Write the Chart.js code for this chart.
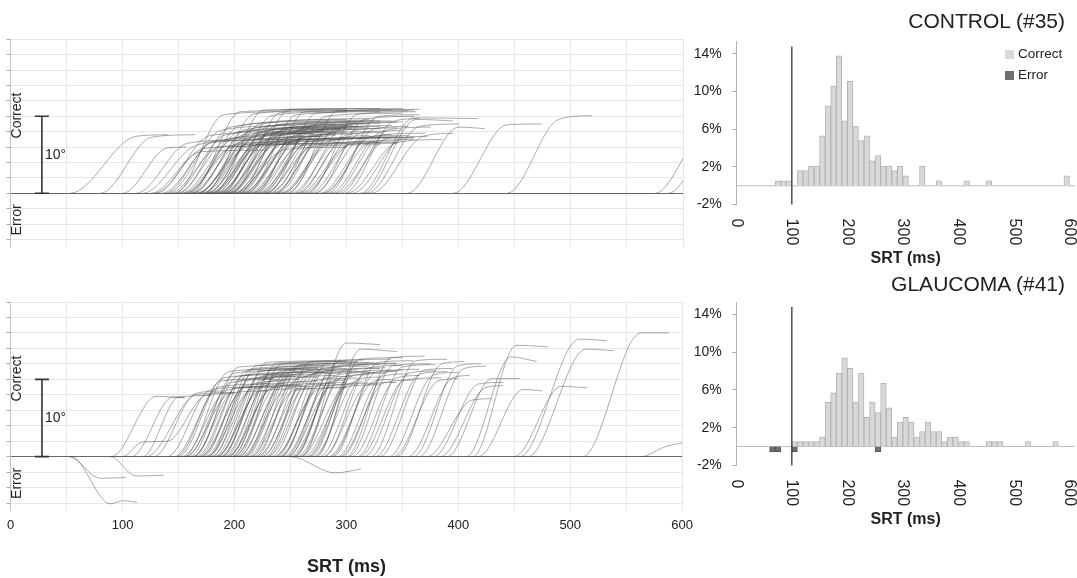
<!DOCTYPE html>
<html>
<head>
<meta charset="utf-8">
<script src="https://cdn.jsdelivr.net/npm/chart.js@4.4.1/dist/chart.umd.min.js"></script>
<style>
  html, body { margin: 0; padding: 0; background: #fff; }
  body { width: 1077px; height: 578px; position: relative; overflow: hidden; font-family: "Liberation Sans", Arial, sans-serif; }
  .box { position: absolute; }
  .title { position: absolute; right: 12px; font-size: 21px; color: #222; white-space: nowrap; }
  .legend { position: absolute; left: 1005px; top: 43px; font-size: 13.5px; color: #222; line-height: 21px; }
  .legend .sw { display: inline-block; width: 9px; height: 9px; margin-right: 4px; vertical-align: -0.5px; }
</style>
</head>
<body>
<div class="box" style="left:0;top:0;width:700px;height:260px"><canvas id="traceControl"></canvas></div>
<div class="box" style="left:0;top:260px;width:700px;height:318px"><canvas id="traceGlaucoma"></canvas></div>
<div class="box" style="left:680px;top:0;width:397px;height:270px"><canvas id="histControl"></canvas></div>
<div class="box" style="left:680px;top:270px;width:397px;height:308px"><canvas id="histGlaucoma"></canvas></div>
<div class="title" style="top:9px">CONTROL (#35)</div>
<div class="title" style="top:272px">GLAUCOMA (#41)</div>
<div class="legend">
  <div><span class="sw" style="background:#d9d9d9"></span>Correct</div>
  <div><span class="sw" style="background:#6f6f6f"></span>Error</div>
</div>
<script>
// --- tick labels ---
const srtTicks = [0, 100, 200, 300, 400, 500, 600];
const degTicks = [-6, -4, -2, 0, 2, 4, 6, 8, 10, 12, 14, 16, 18, 20];
const pctTicks = [-2, 2, 6, 10, 14];
const cutoffMs = 100;

// --- eye traces: [onset ms, then (time ms, deg) pairs]; every trace sits at 0 deg from t = 0 ---
const controlTraces = [
  [53, 112, 7.4, 140, 7.6], [80, 126, 7.3, 165, 7.6], [100, 140, 5.9, 157, 6.0], [112, 158, 6.5, 200, 6.9],
  [118, 165, 6.2, 215, 7.0], [125, 170, 5.4, 230, 5.6], [130, 178, 7.5, 240, 8.0], [135, 182, 6.8, 225, 7.2],
  [140, 188, 8.2, 250, 8.8], [142, 186, 6.0, 235, 6.4], [145, 192, 7.6, 270, 8.4], [148, 195, 7.1, 245, 7.5],
  [150, 196, 8.6, 285, 9.4], [152, 200, 7.2, 260, 7.8], [155, 202, 6.4, 250, 6.7], [157, 204, 8.0, 275, 8.6],
  [158, 205, 8.8, 300, 9.6], [160, 206, 6.7, 240, 7.1], [162, 208, 7.6, 265, 8.0], [163, 210, 8.3, 290, 9.0],
  [165, 212, 6.1, 255, 6.5], [166, 213, 7.2, 270, 7.8], [168, 214, 8.1, 300, 8.6], [170, 216, 6.9, 262, 7.3],
  [171, 218, 8.5, 310, 9.2], [172, 219, 7.5, 280, 8.1], [174, 220, 6.3, 258, 6.6], [175, 221, 7.9, 290, 8.5],
  [176, 223, 9.0, 320, 9.7], [178, 224, 7.3, 270, 7.8], [179, 226, 6.8, 265, 7.1], [180, 227, 8.1, 300, 8.8],
  [182, 228, 7.6, 285, 8.0], [183, 230, 8.7, 315, 9.3], [184, 231, 7.1, 275, 7.4], [186, 232, 7.8, 295, 8.3],
  [187, 234, 8.3, 305, 8.8], [188, 235, 6.6, 270, 7.0], [190, 236, 7.4, 290, 7.9], [191, 238, 8.9, 325, 9.5],
  [192, 239, 8.0, 300, 8.4], [194, 240, 7.0, 280, 7.4], [195, 242, 8.2, 310, 8.7], [196, 243, 7.7, 295, 8.1],
  [198, 244, 6.5, 275, 6.8], [200, 246, 8.5, 320, 9.0], [201, 248, 7.3, 290, 7.7], [203, 250, 7.9, 305, 8.4],
  [205, 252, 8.8, 330, 9.4], [206, 253, 6.8, 285, 7.2], [208, 255, 7.6, 300, 8.0], [210, 257, 8.2, 315, 8.6],
  [212, 258, 7.1, 290, 7.5], [214, 260, 7.8, 310, 8.3], [216, 262, 8.6, 330, 9.1], [218, 264, 7.4, 300, 7.7],
  [220, 266, 6.7, 295, 7.0], [222, 268, 8.1, 320, 8.5], [225, 270, 8.9, 340, 9.4], [227, 272, 7.5, 310, 7.8],
  [230, 275, 7.0, 300, 7.2], [232, 277, 8.3, 330, 8.7], [235, 280, 7.7, 320, 8.0], [238, 283, 8.7, 345, 9.2],
  [240, 285, 6.8, 305, 7.1], [243, 288, 8.0, 330, 8.4], [246, 291, 8.4, 340, 8.8], [250, 295, 7.2, 320, 7.5],
  [253, 298, 8.8, 350, 9.3], [256, 300, 7.6, 330, 7.9], [260, 305, 6.6, 320, 6.8], [263, 308, 8.2, 345, 8.5],
  [267, 312, 7.8, 335, 8.1], [272, 316, 9.6, 360, 10.0], [276, 320, 7.3, 340, 7.6], [280, 325, 8.4, 355, 8.7],
  [285, 330, 7.9, 350, 8.2], [290, 335, 7.1, 345, 7.3], [298, 342, 9.4, 365, 9.7], [300, 345, 6.6, 385, 7.0],
  [128, 172, 5.8, 210, 6.1], [138, 180, 6.6, 260, 7.0], [147, 190, 10.2, 250, 10.6], [154, 198, 6.0, 280, 6.4],
  [161, 205, 10.6, 300, 10.9], [167, 211, 6.4, 290, 6.8], [173, 217, 10.3, 280, 10.8], [177, 222, 6.1, 300, 6.5],
  [181, 226, 10.8, 330, 11.0], [185, 229, 6.7, 320, 7.1], [189, 233, 10.1, 300, 10.6], [193, 237, 6.3, 330, 6.6],
  [197, 241, 10.5, 340, 10.8], [199, 245, 5.7, 300, 6.0], [204, 249, 10.9, 350, 11.0], [207, 251, 6.8, 340, 7.2],
  [211, 255, 10.2, 330, 10.6], [215, 259, 6.2, 345, 6.5], [219, 263, 10.6, 360, 10.8], [223, 268, 7.0, 350, 7.3],
  [226, 270, 6.1, 330, 6.3], [229, 273, 10.4, 355, 10.7], [234, 278, 6.9, 360, 7.2], [237, 281, 10.0, 350, 10.4],
  [242, 286, 6.5, 350, 6.8], [248, 292, 10.7, 365, 10.9], [255, 299, 7.1, 360, 7.3], [258, 302, 6.3, 345, 6.6],
  [265, 310, 10.3, 362, 10.6], [270, 315, 7.3, 355, 7.5], [278, 322, 6.7, 360, 7.0], [283, 328, 10.0, 365, 10.2],
  [288, 332, 7.6, 370, 7.8], [294, 338, 8.3, 375, 8.6], [305, 350, 7.2, 372, 7.4],
  [312, 360, 9.8, 417, 9.7], [315, 362, 9.6, 395, 9.4], [318, 365, 8.7, 400, 9.0], [322, 368, 7.4, 395, 7.8],
  [354, 400, 8.6, 423, 8.4], [395, 443, 8.9, 474, 9.0], [443, 489, 9.6, 519, 10.1],
  [575, 620, 7.9, 640, 8.0], [587, 632, 8.4, 650, 8.5]
];

const glaucomaTraces = [
  [52, 80, -2.8, 103, -2.7], [54, 89, -6.1, 100, -5.7, 113, -5.9], [89, 112, -2.5, 137, -2.4], [250, 290, -2.1, 313, -1.6],
  [90, 130, 7.8, 156, 7.6], [100, 118, 1.9, 140, 2.0, 175, 8.0, 200, 8.2], [108, 145, 7.7, 155, 7.7],
  [118, 150, 7.7, 180, 7.9], [121, 166, 8.2, 190, 8.5], [128, 165, 8.0, 200, 8.3], [140, 178, 8.6, 215, 9.0],
  [146, 186, 9.0, 230, 9.4], [150, 190, 10.2, 245, 10.6], [153, 193, 8.6, 225, 9.0], [155, 195, 11.0, 260, 11.4],
  [157, 197, 9.6, 240, 10.0], [160, 200, 10.8, 255, 11.2], [162, 202, 8.9, 235, 9.1], [164, 204, 11.6, 270, 11.9],
  [166, 206, 9.9, 250, 10.3], [168, 208, 10.5, 262, 10.9], [170, 210, 9.2, 245, 9.5], [172, 212, 11.2, 275, 11.5],
  [174, 214, 10.0, 255, 10.4], [175, 215, 8.7, 240, 9.0], [177, 217, 10.9, 268, 11.3], [179, 219, 9.5, 250, 9.8],
  [180, 220, 11.8, 285, 12.1], [182, 222, 10.3, 262, 10.6], [184, 224, 9.1, 248, 9.4], [185, 225, 11.1, 275, 11.4],
  [187, 227, 10.1, 265, 10.4], [189, 229, 12.2, 295, 12.4], [190, 230, 9.7, 258, 10.0], [192, 232, 10.7, 280, 11.0],
  [194, 234, 9.0, 260, 9.3], [195, 235, 11.5, 290, 11.8], [197, 237, 10.4, 272, 10.6], [199, 239, 9.4, 265, 9.7],
  [200, 240, 11.0, 285, 11.3], [202, 242, 12.0, 300, 12.3], [204, 244, 10.0, 275, 10.3], [206, 246, 8.8, 265, 9.1],
  [208, 248, 11.3, 295, 11.6], [210, 250, 10.6, 285, 10.9], [212, 252, 9.5, 275, 9.8], [215, 255, 11.7, 305, 12.0],
  [217, 257, 10.2, 290, 10.5], [220, 260, 9.1, 280, 9.4], [222, 262, 11.0, 300, 11.4], [225, 265, 10.5, 295, 10.8],
  [228, 268, 12.3, 315, 12.5], [230, 270, 9.8, 295, 10.1], [233, 273, 10.9, 310, 11.2], [236, 276, 9.3, 300, 9.6],
  [238, 278, 11.4, 320, 11.7], [240, 280, 10.1, 305, 10.4], [242, 282, 12.0, 325, 12.2], [244, 284, 9.6, 300, 9.9],
  [246, 286, 10.8, 320, 11.0], [248, 288, 11.6, 330, 11.9], [250, 290, 9.9, 310, 10.2], [252, 292, 10.6, 325, 10.9],
  [254, 294, 12.4, 340, 12.6], [256, 296, 10.3, 320, 10.6], [258, 298, 11.2, 335, 11.5], [260, 300, 14.7, 330, 14.5],
  [262, 302, 9.4, 315, 9.7], [265, 305, 10.9, 340, 11.2], [268, 308, 11.8, 345, 12.1], [270, 310, 10.0, 330, 10.3],
  [273, 313, 13.9, 345, 13.6], [276, 316, 10.7, 345, 11.0], [280, 320, 11.5, 350, 11.8], [284, 324, 9.7, 340, 10.0],
  [288, 328, 12.2, 360, 12.4], [292, 332, 10.4, 355, 10.7], [296, 336, 11.0, 365, 11.3], [300, 340, 12.8, 370, 13.0],
  [305, 345, 10.2, 365, 10.5], [310, 350, 11.6, 380, 11.9], [316, 356, 10.8, 380, 11.1], [322, 362, 12.4, 390, 12.6],
  [330, 370, 11.2, 395, 11.4], [338, 378, 10.6, 400, 10.9], [345, 385, 12.0, 405, 12.3], [355, 395, 10.2, 410, 10.5],
  [148, 188, 9.8, 235, 10.1], [156, 196, 8.2, 230, 8.5], [163, 203, 10.4, 250, 10.7], [169, 209, 8.9, 260, 9.2],
  [176, 216, 11.4, 280, 11.7], [183, 223, 8.5, 270, 8.8], [188, 228, 10.6, 275, 10.9], [193, 233, 8.8, 255, 9.1],
  [198, 238, 12.1, 310, 12.3], [203, 243, 9.2, 290, 9.5], [209, 249, 10.9, 290, 11.2], [214, 254, 8.6, 300, 8.9],
  [219, 259, 11.9, 320, 12.1], [224, 264, 9.0, 310, 9.3], [229, 269, 10.7, 305, 11.0], [235, 275, 8.7, 300, 9.0],
  [241, 281, 11.1, 330, 11.4], [247, 287, 9.2, 325, 9.5], [253, 293, 11.8, 345, 12.0], [259, 299, 9.0, 330, 9.3],
  [266, 306, 10.5, 335, 10.8], [272, 312, 12.6, 350, 12.8], [279, 319, 9.3, 345, 9.6], [286, 326, 10.9, 350, 11.2],
  [294, 334, 9.6, 360, 9.9], [302, 342, 11.8, 375, 12.0], [312, 352, 9.9, 385, 10.2], [326, 366, 10.7, 390, 11.0],
  [342, 382, 9.8, 400, 10.1], [360, 400, 11.8, 420, 12.0], [372, 412, 7.3, 430, 7.5], [384, 424, 8.9, 440, 9.2],
  [365, 405, 11.4, 425, 11.7], [378, 418, 9.4, 440, 9.6], [390, 430, 10.1, 455, 10.1], [407, 447, 12.9, 470, 12.3],
  [413, 452, 14.4, 480, 14.2], [418, 458, 8.7, 475, 8.5], [450, 492, 9.1, 515, 8.9], [455, 508, 15.2, 533, 15.0],
  [462, 514, 13.9, 539, 13.7], [511, 563, 16.0, 588, 16.0], [563, 585, 1.3, 605, 1.9]
];

// --- SRT histograms: bin start (ms) and % of trials ---
const controlBins = [70, 80, 90, 110, 120, 130, 140, 150, 160, 170, 180, 190, 200, 210, 220, 230, 240, 250, 260, 270, 280, 290, 300, 330, 360, 410, 450, 590];
const controlCorrect = [0.53, 0.53, 0.53, 1.6, 1.6, 2.1, 2.1, 5.3, 8.5, 10.6, 13.8, 6.9, 11.1, 6.35, 4.8, 5.3, 2.65, 3.2, 2.1, 2.1, 1.6, 2.1, 1.06, 2.1, 0.53, 0.53, 0.53, 1.06];
const controlErrBins = [];
const controlError = [];

const glaucomaBins = [100, 110, 120, 130, 140, 150, 160, 170, 180, 190, 200, 210, 220, 230, 240, 250, 260, 270, 280, 290, 300, 310, 320, 330, 340, 350, 360, 370, 380, 390, 400, 410, 450, 460, 470, 520, 570];
const glaucomaCorrect = [0.53, 0.53, 0.53, 0.53, 0.53, 1.0, 4.7, 5.7, 7.8, 9.4, 8.3, 4.7, 7.8, 3.1, 4.7, 3.6, 6.7, 4.1, 1.0, 2.6, 3.1, 2.6, 1.0, 1.6, 2.6, 1.6, 1.6, 0.53, 1.0, 1.0, 0.53, 0.53, 0.53, 0.53, 0.53, 0.53, 0.53];
const glaucomaErrBins = [60, 70, 100, 250];
const glaucomaError = [-0.55, -0.55, -0.55, -0.55];

Chart.defaults.font.family = '"Liberation Sans", Arial, sans-serif';
Chart.defaults.color = '#333';

const traceColor = 'rgba(70,70,70,0.5)';

// scale bar and side labels on the trace panels
const traceNotes = {
  id: 'traceNotes',
  afterDraw(chart) {
    const { ctx, scales: { x, y } } = chart;
    const bx = x.getPixelForValue(28);
    const y0 = y.getPixelForValue(0), y10 = y.getPixelForValue(10);
    ctx.save();
    ctx.strokeStyle = '#333';
    ctx.lineWidth = 1.6;
    ctx.beginPath();
    ctx.moveTo(bx, y0); ctx.lineTo(bx, y10);
    ctx.moveTo(bx - 7, y0); ctx.lineTo(bx + 7, y0);
    ctx.moveTo(bx - 7, y10); ctx.lineTo(bx + 7, y10);
    ctx.stroke();
    ctx.fillStyle = '#222';
    ctx.font = '14px "Liberation Sans", Arial, sans-serif';
    ctx.textBaseline = 'middle';
    ctx.textAlign = 'left';
    ctx.fillText('10°', bx + 3, y.getPixelForValue(5));
    [['Correct', 10.1], ['Error', -3.45]].forEach(([txt, deg]) => {
      ctx.save();
      ctx.translate(x.left + 7, y.getPixelForValue(deg));
      ctx.rotate(-Math.PI / 2);
      ctx.textAlign = 'center';
      ctx.fillText(txt, 0, 0);
      ctx.restore();
    });
    ctx.restore();
  }
};

function traceChart(id, traces, withAxis, pad) {
  const datasets = traces.map(t => {
    const pts = [{ x: 0, y: 0 }, { x: t[0], y: 0 }];
    for (let i = 1; i < t.length; i += 2) pts.push({ x: t[i], y: t[i + 1] });
    return {
      data: pts,
      borderColor: traceColor,
      borderWidth: 0.9,
      pointRadius: 0,
      cubicInterpolationMode: 'monotone',
      fill: false,
      // the flat part before onset lies on the zero line; keep it from piling up there
      segment: { borderColor: c => (c.p0.parsed.y === 0 && c.p1.parsed.y === 0) ? 'rgba(0,0,0,0)' : traceColor }
    };
  });
  return new Chart(document.getElementById(id), {
    type: 'line',
    data: { datasets },
    options: {
      responsive: true, maintainAspectRatio: false, animation: false, events: [],
      layout: { padding: pad },
      plugins: { legend: { display: false }, tooltip: { enabled: false } },
      scales: {
        x: {
          type: 'linear', min: 0, max: 600,
          ticks: {
            display: withAxis, stepSize: 50, autoSkip: false, maxRotation: 0, padding: 7,
            font: { size: 13 }, color: '#222',
            callback: v => srtTicks.includes(v) ? v : ''
          },
          grid: { color: '#e6e6e6', drawTicks: false },
          border: { display: false },
          title: { display: withAxis, text: 'SRT (ms)', font: { size: 18, weight: 'bold' }, color: '#222', padding: { top: 15.4, bottom: 0 } }
        },
        y: {
          min: -7, max: 20,
          afterBuildTicks: s => { s.ticks = degTicks.map(v => ({ value: v })); },
          ticks: { display: false },
          grid: { color: c => c.tick && c.tick.value === 0 ? '#666' : '#e6e6e6', tickLength: 4, tickColor: '#aaa' },
          border: { color: '#c4c4c4' }
        }
      }
    },
    plugins: [traceNotes]
  });
}

// zero line, 100 ms marker, rotated SRT labels and axis title on the histograms
const histNotes = {
  id: 'histNotes',
  beforeDatasetsDraw(chart) {
    const { ctx, chartArea: a, scales: { y } } = chart;
    const y0 = y.getPixelForValue(0);
    ctx.save();
    ctx.strokeStyle = '#bdbdbd';
    ctx.lineWidth = 1;
    ctx.beginPath();
    ctx.moveTo(a.left, y0); ctx.lineTo(a.right, y0);
    ctx.stroke();
    ctx.restore();
  },
  afterDraw(chart) {
    const { ctx, chartArea: a, scales: { x, y } } = chart;
    const cx = x.getPixelForValue(cutoffMs);
    ctx.save();
    ctx.strokeStyle = '#444';
    ctx.lineWidth = 1.4;
    ctx.beginPath();
    ctx.moveTo(cx, y.getPixelForValue(14.8)); ctx.lineTo(cx, a.bottom);
    ctx.stroke();
    ctx.fillStyle = '#222';
    ctx.font = '16px "Liberation Sans", Arial, sans-serif';
    ctx.textBaseline = 'middle';
    ctx.textAlign = 'left';
    srtTicks.forEach(v => {
      ctx.save();
      ctx.translate(x.getPixelForValue(v), a.bottom + 14);
      ctx.rotate(Math.PI / 2);
      ctx.fillText(String(v), 0, 0);
      ctx.restore();
    });
    ctx.font = 'bold 16px "Liberation Sans", Arial, sans-serif';
    ctx.textAlign = 'center';
    ctx.fillText('SRT (ms)', (a.left + a.right) / 2, a.bottom + 54);
    ctx.restore();
  }
};

function histChart(id, bins, correct, errBins, errors, pad) {
  return new Chart(document.getElementById(id), {
    type: 'bar',
    data: {
      datasets: [
        {
          label: 'Correct',
          data: bins.map((b, i) => ({ x: b + 5, y: correct[i] })),
          backgroundColor: '#d9d9d9', borderColor: '#b4b4b4', borderWidth: 1,
          grouped: false, barPercentage: 1, categoryPercentage: 1
        },
        {
          label: 'Error',
          data: errBins.map((b, i) => ({ x: b + 5, y: errors[i] })),
          backgroundColor: '#6f6f6f', borderColor: '#555', borderWidth: 1,
          grouped: false, barPercentage: 1, categoryPercentage: 1
        }
      ]
    },
    options: {
      responsive: true, maintainAspectRatio: false, animation: false, events: [],
      layout: { padding: pad },
      plugins: { legend: { display: false }, tooltip: { enabled: false } },
      scales: {
        x: {
          type: 'linear', min: 0, max: 610, offset: false,
          ticks: { display: false, stepSize: 10 },
          grid: { display: false, drawTicks: false },
          border: { display: false }
        },
        y: {
          min: -2, max: 15.3,
          afterBuildTicks: s => { s.ticks = pctTicks.map(v => ({ value: v })); },
          afterFit: s => { s.width = 56.3; },
          ticks: { font: { size: 14 }, color: '#222', padding: 10.5, callback: v => v + '%' },
          grid: { drawOnChartArea: false, tickLength: 4, tickColor: '#aaa' },
          border: { color: '#b0b0b0' }
        }
      }
    },
    plugins: [histNotes]
  });
}

traceChart('traceControl', controlTraces, false, { left: 6.5, right: 17, top: 39.3, bottom: 12.8 });
traceChart('traceGlaucoma', glaucomaTraces, true, { left: 6.5, right: 17, top: 42, bottom: 0.6 });
histChart('histControl', controlBins, controlCorrect, controlErrBins, controlError, { left: 0, right: 2, top: 41.7, bottom: 65.4 });
histChart('histGlaucoma', glaucomaBins, glaucomaCorrect, glaucomaErrBins, glaucomaError, { left: 0, right: 2, top: 32.3, bottom: 112.6 });
</script>
</body>
</html>
